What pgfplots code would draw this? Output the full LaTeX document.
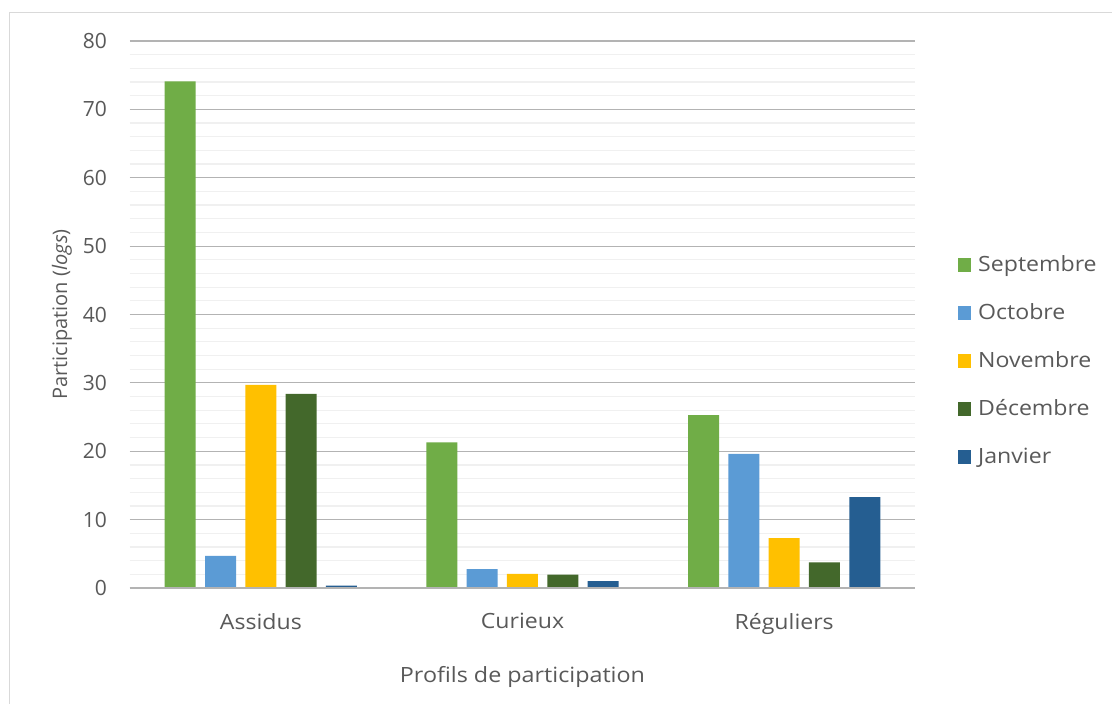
\documentclass[border=0pt]{standalone}
\usepackage{pgfplots}
\pgfplotsset{compat=1.18}
\usepackage{fontspec}
\setmainfont{Open Sans}
\definecolor{txt}{HTML}{595959}
\definecolor{cSep}{HTML}{70AD47}
\definecolor{cOct}{HTML}{5B9BD5}
\definecolor{cNov}{HTML}{FFC000}
\definecolor{cDec}{HTML}{43682B}
\definecolor{cJan}{HTML}{255E91}
\definecolor{majgrid}{HTML}{B3B3B3}
\definecolor{mingrid}{HTML}{F0F0F0}
\definecolor{frame}{HTML}{D9D9D9}
\begin{document}
\begin{tikzpicture}[x=1pt,y=1pt]
\fill[white] (-130,-116) rectangle (982,588);
\draw[frame,line width=1.5pt] (-120.5,-116) -- (-120.5,575.5) -- (982,575.5);
\begin{axis}[
  anchor=south west,
  scale only axis, width=785pt, height=547pt,
  font=\fontsize{21}{25}\selectfont,
  /pgf/number format/assume math mode=true,
  ybar=9.3pt, bar width=31pt,
  xmin=-0.5, xmax=2.5, ymin=0, ymax=80,
  xtick={0,1,2}, xticklabels={Assidus,Curieux,Réguliers},
  ytick={0,10,...,80}, minor ytick={2,4,...,78},
  major tick length=0pt, minor tick length=0pt,
  ymajorgrids, yminorgrids,
  major grid style={majgrid, line width=1.2pt},
  minor grid style={mingrid, line width=1.2pt},
  axis line style={draw=none},
  axis x line*=bottom,
  axis y line*=left,
  tick label style={text=txt},
  yticklabel style={inner sep=0pt, xshift=-23pt},
  xticklabel style={inner sep=0pt, yshift=-25pt, xscale=1.1},
  xlabel={Profils de participation},
  ylabel={Participation (\textit{logs})},
  label style={text=txt},
  xlabel style={at={(axis description cs:0.5,-0.163)}, anchor=center, xscale=1.11},
  ylabel style={at={(axis description cs:-0.0866,0.5)}, anchor=center, font=\fontsize{20}{24}\selectfont},
  legend style={at={(axis description cs:1.0548,0.413)}, anchor=west, draw=none, fill=none,
    text=txt, row sep=28pt, inner sep=0pt,
    nodes={inner sep=0pt, anchor=west, text height=15pt, text depth=5pt, xscale=1.1},
    /tikz/every odd column/.append style={column sep=7pt}},
  legend cell align=left,
  legend image code/.code={\fill[#1] (0pt,-6pt) rectangle (13pt,8pt);},
  every axis plot/.append style={draw=none},
]
\addplot[fill=cSep] coordinates {(0,74.1) (1,21.3) (2,25.3)};
\addplot[fill=cOct] coordinates {(0,4.7) (1,2.75) (2,19.6)};
\addplot[fill=cNov] coordinates {(0,29.7) (1,2.05) (2,7.3)};
\addplot[fill=cDec] coordinates {(0,28.4) (1,1.95) (2,3.75)};
\addplot[fill=cJan] coordinates {(0,0.34) (1,1.02) (2,13.3)};
\legend{Septembre,Octobre,Novembre,Décembre,Janvier}
\draw[majgrid, line width=2pt] (axis cs:-0.5,0) -- (axis cs:2.5,0);
\end{axis}
\pgfresetboundingbox
\useasboundingbox (-130,-116) rectangle (982,588);
\end{tikzpicture}
\end{document}
